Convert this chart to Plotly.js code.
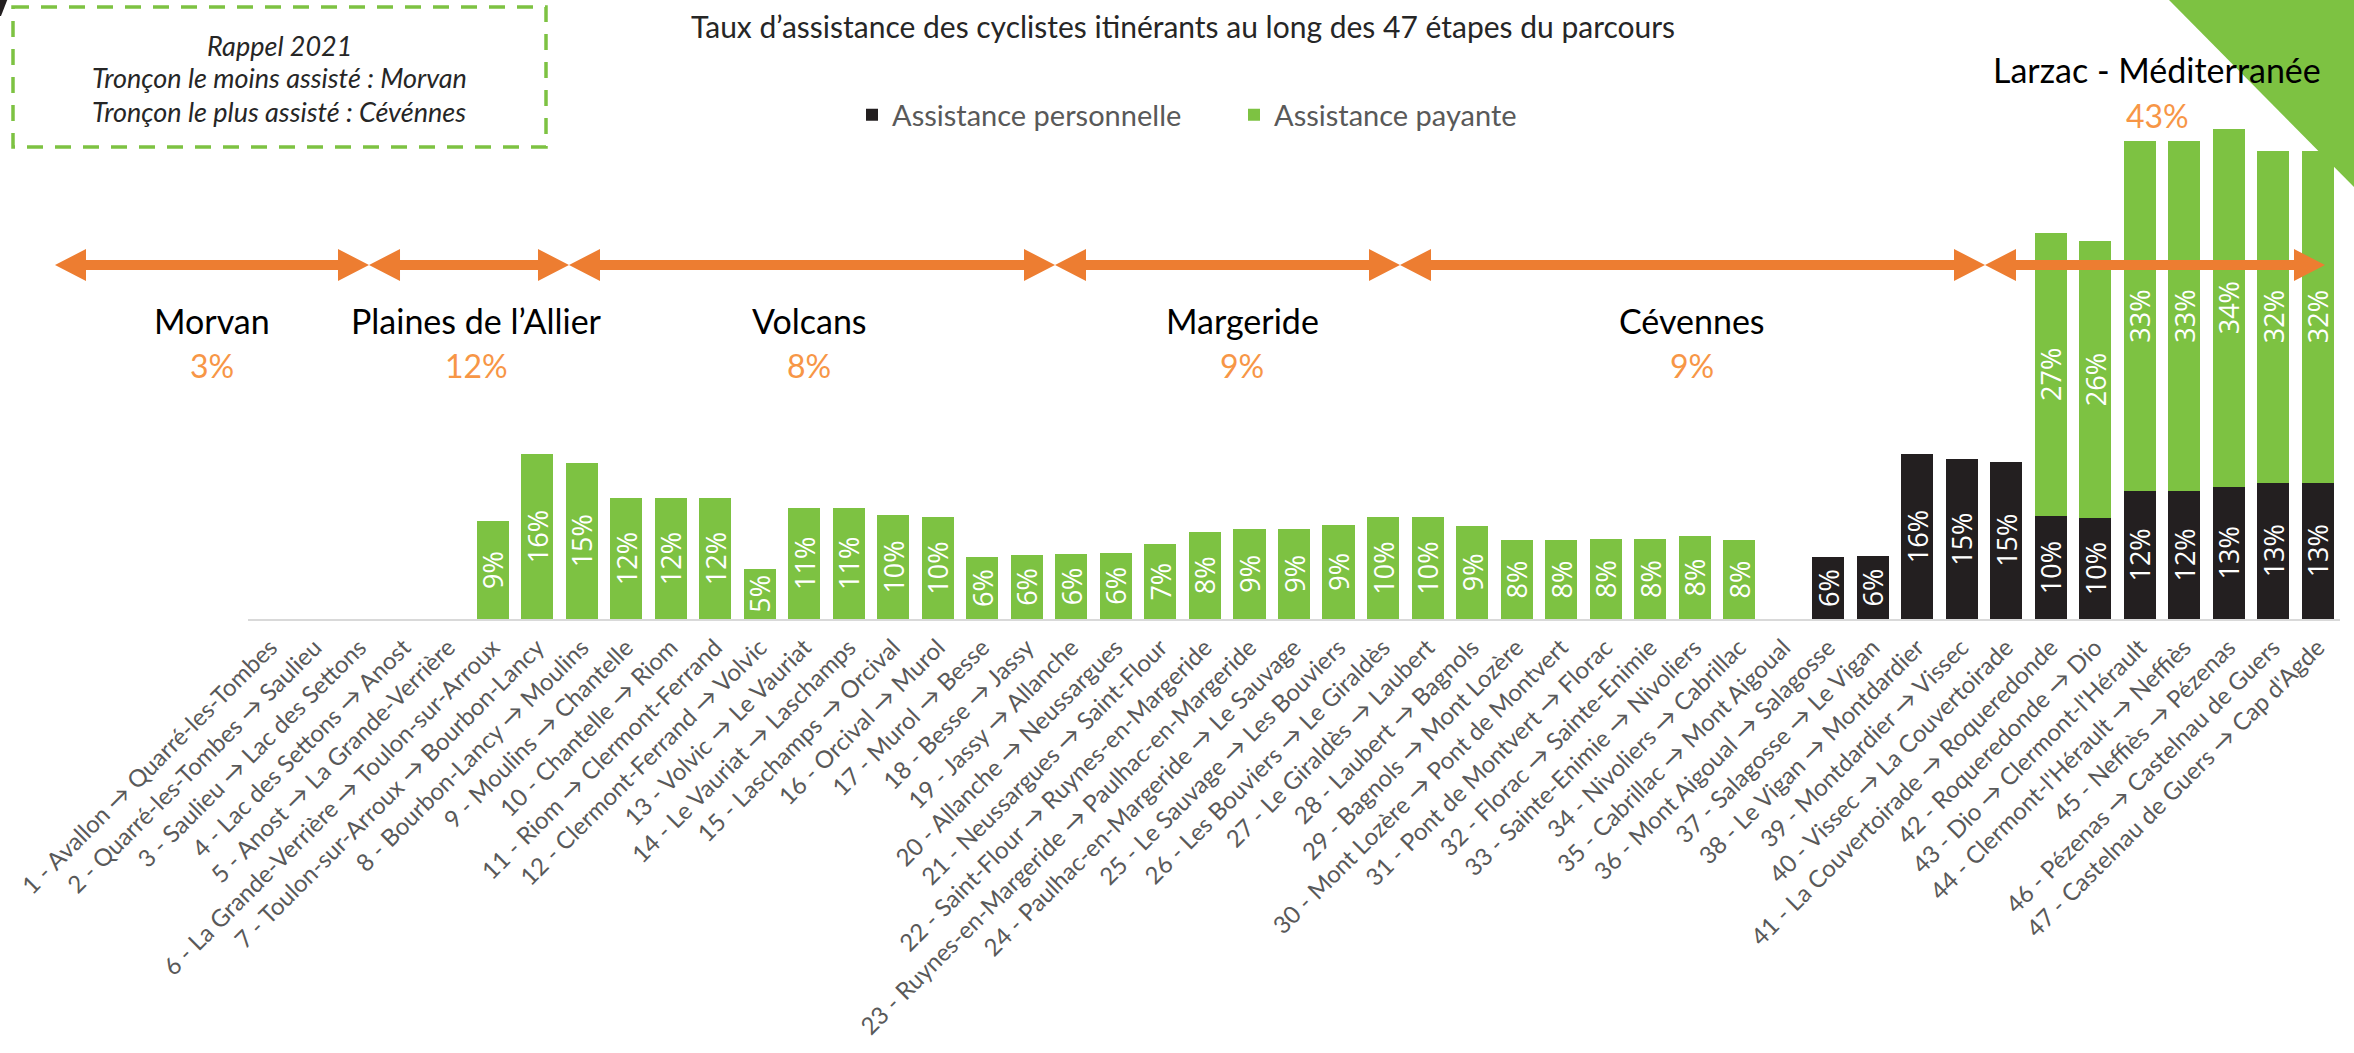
<!DOCTYPE html>
<html>
<head>
<meta charset="utf-8">
<script src="https://cdn.plot.ly/plotly-3.0.1.min.js"></script>
<style>html,body{margin:0;padding:0;background:#fff;}#chart{width:2354px;height:1053px;}</style>
</head>
<body>
<div id="chart"></div>
<script>
// ---------- DATA ----------
const stages = [
  "1 - Avallon → Quarré-les-Tombes",
  "2 - Quarré-les-Tombes → Saulieu",
  "3 - Saulieu → Lac des Settons",
  "4 - Lac des Settons → Anost",
  "5 - Anost → La Grande-Verrière",
  "6 - La Grande-Verrière → Toulon-sur-Arroux",
  "7 - Toulon-sur-Arroux → Bourbon-Lancy",
  "8 - Bourbon-Lancy → Moulins",
  "9 - Moulins → Chantelle",
  "10 - Chantelle → Riom",
  "11 - Riom → Clermont-Ferrand",
  "12 - Clermont-Ferrand → Volvic",
  "13 - Volvic → Le Vauriat",
  "14 - Le Vauriat → Laschamps",
  "15 - Laschamps → Orcival",
  "16 - Orcival → Murol",
  "17 - Murol → Besse",
  "18 - Besse → Jassy",
  "19 - Jassy → Allanche",
  "20 - Allanche → Neussargues",
  "21 - Neussargues → Saint-Flour",
  "22 - Saint-Flour → Ruynes-en-Margeride",
  "23 - Ruynes-en-Margeride → Paulhac-en-Margeride",
  "24 - Paulhac-en-Margeride → Le Sauvage",
  "25 - Le Sauvage → Les Bouviers",
  "26 - Les Bouviers → Le Giraldès",
  "27 - Le Giraldès → Laubert",
  "28 - Laubert → Bagnols",
  "29 - Bagnols → Mont Lozère",
  "30 - Mont Lozère → Pont de Montvert",
  "31 - Pont de Montvert → Florac",
  "32 - Florac → Sainte-Enimie",
  "33 - Sainte-Enimie → Nivoliers",
  "34 - Nivoliers → Cabrillac",
  "35 - Cabrillac → Mont Aigoual",
  "36 - Mont Aigoual → Salagosse",
  "37 - Salagosse → Le Vigan",
  "38 - Le Vigan → Montdardier",
  "39 - Montdardier → Vissec",
  "40 - Vissec → La Couvertoirade",
  "41 - La Couvertoirade → Roqueredonde",
  "42 - Roqueredonde → Dio",
  "43 - Dio → Clermont-l'Hérault",
  "44 - Clermont-l'Hérault → Neffiès",
  "45 - Neffiès → Pézenas",
  "46 - Pézenas → Castelnau de Guers",
  "47 - Castelnau de Guers → Cap d'Agde"
];

// Assistance personnelle (%)
const personnelle = [
  0, 0, 0, 0, 0, 0, 0, 0, 0, 0,
  0, 0, 0, 0, 0, 0, 0, 0, 0, 0,
  0, 0, 0, 0, 0, 0, 0, 0, 0, 0,
  0, 0, 0, 0, 0, 5.9, 6.0, 15.7, 15.2, 15.0,
  9.8, 9.6, 12.2, 12.2, 12.6, 13.0, 13.0
];

// Assistance payante (%)
const payante = [
  0, 0, 0, 0, 0, 9.3, 15.7, 14.9, 11.5, 11.5,
  11.5, 4.8, 10.6, 10.6, 9.9, 9.7, 5.9, 6.1, 6.2, 6.3,
  7.1, 8.3, 8.6, 8.6, 9.0, 9.7, 9.7, 8.9, 7.5, 7.5,
  7.6, 7.6, 7.9, 7.5, 0, 0, 0, 0, 0, 0,
  27.0, 26.4, 33.3, 33.3, 34.1, 31.6, 31.6
];

const seriesNames = ["Assistance personnelle", "Assistance payante"];

// Tronçons (route sections) and their average assistance rate
const sections = ["Morvan", "Plaines de l’Allier", "Volcans", "Margeride", "Cévennes", "Larzac - Méditerranée"];
const sectionRates = [3, 12, 8, 9, 9, 43];

const chartTitle = "Taux d’assistance des cyclistes itinérants au long des 47 étapes du parcours";
const reminderLines = ["Rappel 2021", "Tronçon le moins assisté : Morvan", "Tronçon le plus assisté : Cévénnes"];

// ---------- LAYOUT HELPERS (pixel -> paper) ----------
const L = 248, R = 2340, T = 94, B = 619;
const W = R - L, H = B - T;
const X = px => (px - L) / W;
const Y = py => (B - py) / H;

const FONT = "Lato, 'Open Sans', sans-serif";
const GREEN = "#7DC242", BLACK = "#231F20", ORANGE = "#ED7D31", ORANGE_TXT = "#F79646";

const pctText = arr => arr.map(v => v > 0 ? Math.round(v) + "%" : "");

const traceCommon = {
  type: "bar",
  x: stages,
  textposition: "inside",
  insidetextanchor: "middle",
  textangle: -90,
  constraintext: "none",
  textfont: {family: "'Open Sans', sans-serif", size: 27, color: "#FFFFFF"},
  hoverinfo: "x+y+name"
};

const data = [
  Object.assign({}, traceCommon, {
    name: seriesNames[0], y: personnelle, text: pctText(personnelle),
    marker: {color: BLACK, line: {width: 0}}
  }),
  Object.assign({}, traceCommon, {
    name: seriesNames[1], y: payante, text: pctText(payante),
    marker: {color: GREEN, line: {width: 0}}
  })
];

// Double arrow polygons (pixel coordinates of section spans)
const arrowSpans = [[55, 369], [369, 569], [569, 1055], [1055, 1400], [1400, 1985], [1985, 2325]];
const arrowY = 265, headL = 31, headH = 16, shaftH = 5;
function arrowPath(x1, x2) {
  const pts = [
    [x1, arrowY], [x1 + headL, arrowY - headH], [x1 + headL, arrowY - shaftH],
    [x2 - headL, arrowY - shaftH], [x2 - headL, arrowY - headH], [x2, arrowY],
    [x2 - headL, arrowY + headH], [x2 - headL, arrowY + shaftH],
    [x1 + headL, arrowY + shaftH], [x1 + headL, arrowY + headH]
  ];
  return "M" + pts.map(p => X(p[0]).toFixed(5) + "," + Y(p[1]).toFixed(5)).join(" L") + " Z";
}
function polyPath(pts) {
  return "M" + pts.map(p => X(p[0]).toFixed(5) + "," + Y(p[1]).toFixed(5)).join(" L") + " Z";
}

const shapes = [
  // green corner triangle (top right)
  {type: "path", xref: "paper", yref: "paper", layer: "below",
   path: polyPath([[2169, 0], [2360, 0], [2360, 193]]), fillcolor: GREEN, line: {width: 0}},
  // small black corner mark (top left)
  {type: "path", xref: "paper", yref: "paper", layer: "above",
   path: polyPath([[-2, -2], [8, -2], [1, 16], [-2, 16]]), fillcolor: BLACK, line: {width: 0}},
  // dashed reminder box
  {type: "rect", xref: "paper", yref: "paper", layer: "above",
   x0: X(13), x1: X(546), y0: Y(7), y1: Y(147),
   line: {color: GREEN, width: 3.5, dash: "16px,12px"}, fillcolor: "rgba(0,0,0,0)"}
];
arrowSpans.forEach(s => shapes.push({
  type: "path", xref: "paper", yref: "paper", layer: "above",
  path: arrowPath(s[0], s[1]), fillcolor: ORANGE, line: {width: 0}
}));

// Section label positions (pixels)
const sectionPos = [[212, 320, 365], [476, 320, 365], [809, 320, 365], [1242, 320, 365], [1692, 320, 365], [2157, 70, 115]];
const annotations = [];
sections.forEach((s, i) => {
  const p = sectionPos[i];
  annotations.push({xref: "paper", yref: "paper", x: X(p[0]), y: Y(p[1]), xanchor: "center", yanchor: "middle",
    text: s, showarrow: false, font: {family: FONT, size: 34, color: "#000000"}});
  annotations.push({xref: "paper", yref: "paper", x: X(p[0]), y: Y(p[2]), xanchor: "center", yanchor: "middle",
    text: sectionRates[i] + "%", showarrow: false, font: {family: FONT, size: 32, color: ORANGE_TXT}});
});
const reminderY = [45, 78, 112];
reminderLines.forEach((t, i) => annotations.push({
  xref: "paper", yref: "paper", x: X(279), y: Y(reminderY[i]), xanchor: "center", yanchor: "middle",
  text: "<i>" + t + "</i>", showarrow: false, font: {family: FONT, size: 27, color: "#262626"}
}));

const layout = {
  width: 2354, height: 1053,
  margin: {l: L, r: 2354 - R, t: T, b: 1053 - B, pad: 0},
  paper_bgcolor: "#FFFFFF", plot_bgcolor: "rgba(0,0,0,0)",
  barmode: "stack", bargap: 0.28,
  font: {family: FONT, color: "#595959"},
  title: {text: chartTitle, x: 1183 / 2354, xanchor: "center", xref: "container",
          y: 1 - 27 / 1053, yanchor: "middle", yref: "container",
          font: {family: FONT, size: 30, color: "#262626"}},
  showlegend: true,
  legend: {orientation: "h", x: X(852), y: Y(115), xanchor: "left", yanchor: "middle",
           font: {family: FONT, size: 29, color: "#595959"}, traceorder: "normal",
           bgcolor: "rgba(0,0,0,0)", entrywidth: 337},
  xaxis: {type: "category", tickangle: -45, showline: true, linecolor: "#D9D9D9", linewidth: 2,
          ticks: "", showgrid: false, zeroline: false, ticklabelstandoff: 3,
          tickfont: {family: FONT, size: 24, color: "#595959"}, fixedrange: true},
  yaxis: {range: [0, 50], visible: false, showgrid: false, zeroline: false, fixedrange: true},
  shapes: shapes,
  annotations: annotations
};

Plotly.newPlot("chart", data, layout, {displayModeBar: false, staticPlot: true});
</script>
</body>
</html>
